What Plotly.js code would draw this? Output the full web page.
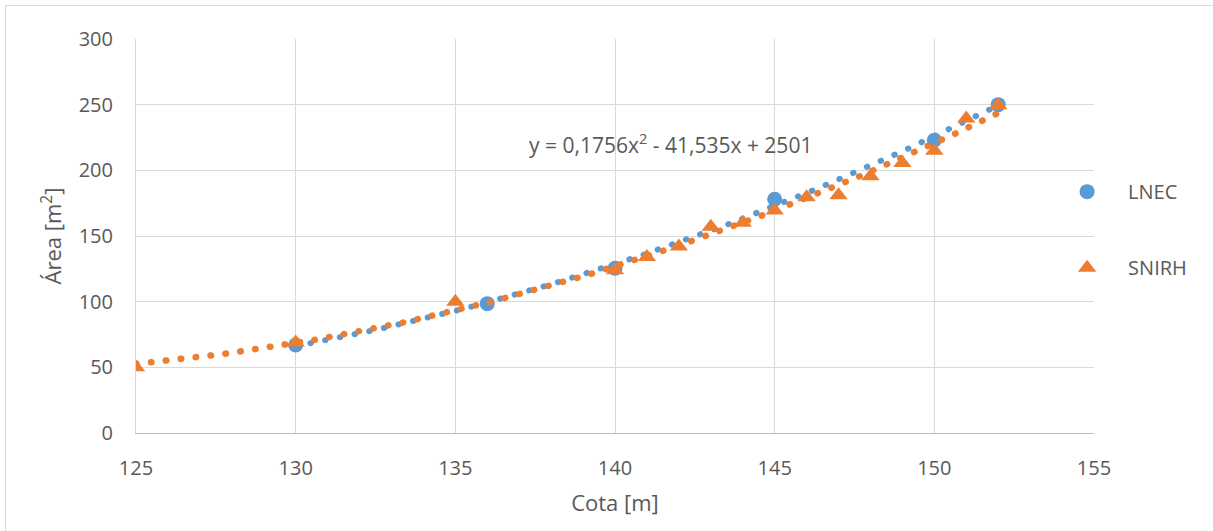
<!DOCTYPE html>
<html>
<head>
<meta charset="utf-8">
<script src="https://cdn.plot.ly/plotly-3.0.1.min.js"></script>
<style>
  html, body { margin: 0; padding: 0; background: #fff; }
  #chart { width: 1213px; height: 531px; }
  .trend .js-line { stroke-linecap: round; }
</style>
</head>
<body>
<div id="chart"></div>
<script>
// ---- data ----
const lnecX  = [130, 136, 140, 145, 150, 152];
const lnecY  = [67, 98.5, 125.5, 178, 223, 250];
const snirhX = [125, 130, 135, 140, 141, 142, 143, 144, 145, 146, 147, 148, 149, 150, 151, 152];
const snirhY = [50, 69, 100, 124, 134, 142, 157, 160, 169.5, 179.5, 181, 195.5, 205.5, 215, 239.5, 249.5];
const seriesNames = ['LNEC', 'SNIRH'];
const xTicks = [125, 130, 135, 140, 145, 150, 155];
const yTicks = [0, 50, 100, 150, 200, 250, 300];
const equationText = 'y = 0,1756x<sup>2</sup> - 41,535x + 2501';

// ---- quadratic least-squares trendline (Excel "Polynomial, order 2") ----
function polyFit2(xs, ys) {
  let n = xs.length, sx = 0, sx2 = 0, sx3 = 0, sx4 = 0, sy = 0, sxy = 0, sx2y = 0;
  for (let i = 0; i < n; i++) {
    const x = xs[i], y = ys[i], x2 = x * x;
    sx += x; sx2 += x2; sx3 += x2 * x; sx4 += x2 * x2;
    sy += y; sxy += x * y; sx2y += x2 * y;
  }
  const M = [[sx4, sx3, sx2, sx2y], [sx3, sx2, sx, sxy], [sx2, sx, n, sy]];
  for (let c = 0; c < 3; c++) {
    let p = c;
    for (let r = c + 1; r < 3; r++) if (Math.abs(M[r][c]) > Math.abs(M[p][c])) p = r;
    [M[c], M[p]] = [M[p], M[c]];
    for (let r = 0; r < 3; r++) {
      if (r === c) continue;
      const f = M[r][c] / M[c][c];
      for (let k = c; k < 4; k++) M[r][k] -= f * M[c][k];
    }
  }
  return [M[0][3] / M[0][0], M[1][3] / M[1][1], M[2][3] / M[2][2]];
}
function trendPoints(xs, ys) {
  const [a, b, c] = polyFit2(xs, ys);
  const x0 = Math.min(...xs), x1 = Math.max(...xs), N = 200;
  const tx = [], ty = [];
  for (let i = 0; i <= N; i++) {
    const x = x0 + (x1 - x0) * i / N;
    tx.push(x); ty.push(a * x * x + b * x + c);
  }
  return { x: tx, y: ty };
}

const BLUE = '#5B9BD5', ORANGE = '#ED7D31', TXT = '#595959';
const tL = trendPoints(lnecX, lnecY);
const tS = trendPoints(snirhX, snirhY);
const dotDash = '0.5px,14.5px';

const traces = [
  { x: tL.x, y: tL.y, mode: 'lines', showlegend: false, hoverinfo: 'skip',
    line: { color: BLUE, width: 6, dash: dotDash }, legendgroup: 'tl' },
  { x: lnecX, y: lnecY, mode: 'markers', name: seriesNames[0], legendgroup: 'a',
    marker: { color: BLUE, size: 15, symbol: 'circle' } },
  { x: tS.x, y: tS.y, mode: 'lines', showlegend: false, hoverinfo: 'skip',
    line: { color: ORANGE, width: 6.5, dash: dotDash }, legendgroup: 'ts' },
  { x: snirhX, y: snirhY, mode: 'markers', name: seriesNames[1], legendgroup: 'b',
    marker: { color: ORANGE, size: 16, symbol: 'triangle-up' } }
];

const FONT = 'Open Sans, sans-serif';
const layout = {
  width: 1213, height: 531,
  margin: { l: 136, r: 119, t: 39, b: 98 },
  paper_bgcolor: '#fff', plot_bgcolor: '#fff',
  font: { family: FONT, color: TXT, size: 20 },
  showlegend: true,
  legend: {
    x: 0.95, xanchor: 'left', y: 0.662, yanchor: 'top',
    font: { family: FONT, size: 20, color: TXT },
    itemwidth: 72, tracegroupgap: 47, bgcolor: 'rgba(0,0,0,0)'
  },
  xaxis: {
    range: [125, 155], tickvals: xTicks, ticktext: xTicks.map(String),
    showgrid: true, gridcolor: '#D9D9D9', gridwidth: 1,
    showline: true, linecolor: '#BFBFBF', linewidth: 1, zeroline: false,
    ticks: 'outside', ticklen: 17, tickcolor: 'rgba(0,0,0,0)',
    tickfont: { family: FONT, size: 20, color: TXT },
    title: { text: 'Cota [m]', font: { family: FONT, size: 22, color: TXT }, standoff: 15 }
  },
  yaxis: {
    range: [0, 300], tickvals: yTicks, ticktext: yTicks.map(String),
    showgrid: true, gridcolor: '#D9D9D9', gridwidth: 1,
    showline: true, linecolor: '#D9D9D9', linewidth: 1, zeroline: false,
    ticks: 'outside', ticklen: 18, tickcolor: 'rgba(0,0,0,0)',
    tickfont: { family: FONT, size: 20, color: TXT },
    title: { text: 'Área [m<sup>2</sup>]', font: { family: FONT, size: 22, color: TXT }, standoff: 10 }
  },
  annotations: [{
    x: 137.25, y: 220.8, xref: 'x', yref: 'y', xanchor: 'left', yanchor: 'middle',
    text: equationText, showarrow: false,
    font: { family: FONT, size: 21, color: TXT }
  }],
  shapes: [{
    type: 'rect', xref: 'paper', yref: 'paper', layer: 'below',
    x0: (5.5 - 136) / 958, x1: (1230 - 136) / 958,
    y0: (433 - 560) / 394, y1: (433 - 5.5) / 394,
    line: { color: '#D9D9D9', width: 1 }, fillcolor: 'rgba(0,0,0,0)'
  }]
};

Plotly.newPlot('chart', traces, layout, { staticPlot: true, displayModeBar: false }).then(gd => {
  const groups = gd.querySelectorAll('.scatterlayer .trace');
  [0, 2].forEach(i => { if (groups[i]) groups[i].classList.add('trend'); });
});
</script>
</body>
</html>
